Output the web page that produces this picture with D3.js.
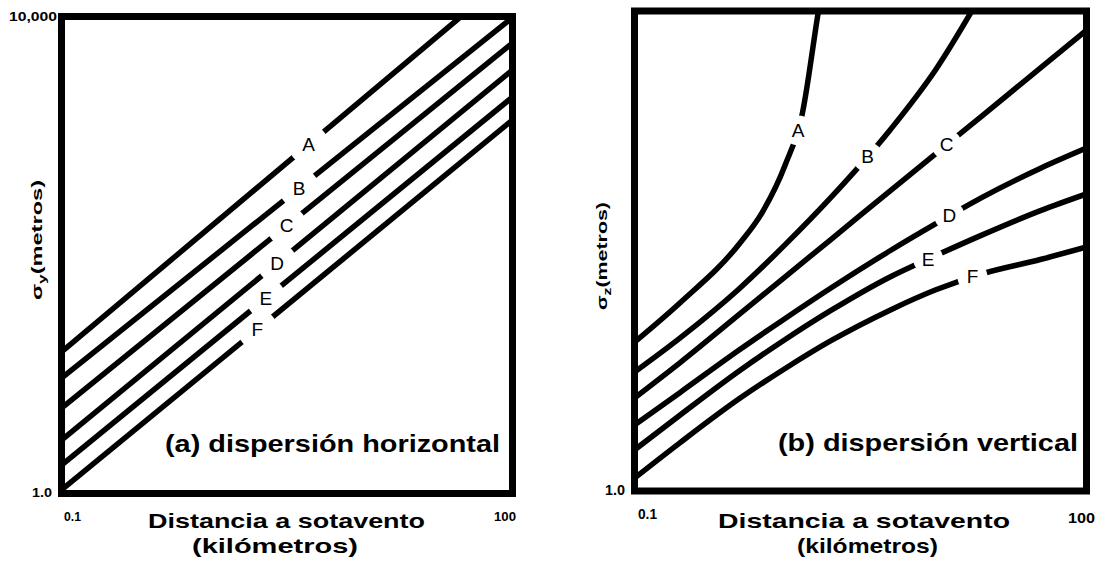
<!DOCTYPE html>
<html>
<head>
<meta charset="utf-8">
<script src="https://cdn.jsdelivr.net/npm/d3@7"></script>
<style>
  body { margin: 0; background: #fff; }
  svg { display: block; }
  text { font-family: "Liberation Sans", Arial, sans-serif; fill: #000; }
</style>
</head>
<body>
<script>
// Pasquill-Gifford stability classes
const classes = ['A', 'B', 'C', 'D', 'E', 'F'];

// (a) horizontal dispersion: straight lines, sigma_y at 0.1 km and 100 km
const distY = [0.1, 100];
const sigmaYStart = [15.4, 9.3, 5.2, 2.8, 1.73, 1.07];
const sigmaYEnd = [23000, 9800, 6000, 3560, 2110, 1355];
const labelDistY = [4.4, 3.8, 3.14, 2.72, 2.29, 2.01];

// (b) vertical dispersion: sigma_z read at these distances (km)
const distZ = [0.1, 0.2, 0.5, 1, 2, 5, 10, 20, 50, 100];
const distZA = [0.1, 0.2, 0.5, 0.7, 1, 1.3, 1.65, 2];
const sigmaZA = [17.4, 36.9, 116, 207, 521, 1400, 9400, 40000];
const sigmaZB = [9.8, 18.8, 49, 113, 277, 1030, 3260, 13600, null, null];
const sigmaZC = [5.96, 11.7, 29.9, 61, 124, 319, 649, 1320, 3390, 6920];
const sigmaZD = [3.55, 6.6, 15.1, 27.4, 48.9, 101, 169, 277, 492, 721];
const sigmaZE = [2.2, 4.28, 10.1, 18.3, 31.8, 61.1, 91.6, 135, 218, 299];
const sigmaZF = [1.28, 2.52, 5.92, 10.5, 17.8, 32.3, 47.5, 64.3, 85.3, 108];
const labelDistZ = [1.22, 3.52, 11.8, 12.3, 8.9, 17.5];

// axis tick labels
const xDomain = [0.1, 100];
const yDomain = [1, 10000];

const W = 1099, H = 567;

const svg = d3.select('body').append('svg')
  .attr('width', W)
  .attr('height', H);
const defs = svg.append('defs');

// stretched text helper (the picture is wider than the font)
function txt(g, x, y, str, size, len, bold) {
  return g.append('text')
    .attr('x', x)
    .attr('y', y)
    .attr('font-size', size)
    .attr('font-weight', bold ? 'bold' : 'normal')
    .attr('textLength', len)
    .attr('lengthAdjust', 'spacingAndGlyphs')
    .text(str);
}

// point on a path (monotone in x) at pixel x
function pointAtX(node, px) {
  let lo = 0, hi = node.getTotalLength();
  for (let k = 0; k < 40; k++) {
    const mid = (lo + hi) / 2;
    if (node.getPointAtLength(mid).x < px) lo = mid; else hi = mid;
  }
  return node.getPointAtLength((lo + hi) / 2);
}

/**
 draw one panel
 cfg: ranges, series, labels
*/
function panel(cfg) {
  const x = d3.scaleLog().domain(xDomain).range(cfg.xr);
  const y = d3.scaleLog().domain(yDomain).range(cfg.yr);
  const g = svg.append('g');

  defs.append('clipPath').attr('id', cfg.id + '-clip')
    .append('rect')
    .attr('x', cfg.xr[0]).attr('y', cfg.yr[1])
    .attr('width', cfg.xr[1] - cfg.xr[0])
    .attr('height', cfg.yr[0] - cfg.yr[1]);

  const line = d3.line()
    .defined(d => d[1] != null)
    .x(d => x(d[0]))
    .y(d => y(d[1]))
    .curve(d3.curveMonotoneX);

  const lines = g.append('g').attr('clip-path', 'url(#' + cfg.id + '-clip)');

  cfg.series.forEach((pts, i) => {
    const mid = cfg.id + '-m' + i;
    const path = lines.append('path')
      .datum(pts)
      .attr('d', line)
      .attr('fill', 'none')
      .attr('stroke', '#000')
      .attr('stroke-width', 5.5)
      .attr('mask', 'url(#' + mid + ')');

    const p = pointAtX(path.node(), x(cfg.labelAt[i]));
    const m = defs.append('mask').attr('id', mid)
      .attr('maskUnits', 'userSpaceOnUse')
      .attr('x', 0).attr('y', 0).attr('width', W).attr('height', H);
    m.append('rect').attr('width', W).attr('height', H).attr('fill', '#fff');
    m.append('circle').attr('cx', p.x).attr('cy', p.y).attr('r', cfg.gap).attr('fill', '#000');

    g.append('text')
      .attr('x', p.x)
      .attr('y', p.y)
      .attr('text-anchor', 'middle')
      .attr('dominant-baseline', 'central')
      .attr('font-size', 19)
      .text(classes[i]);
  });

  // frame
  g.append('rect')
    .attr('x', cfg.xr[0]).attr('y', cfg.yr[1])
    .attr('width', cfg.xr[1] - cfg.xr[0])
    .attr('height', cfg.yr[0] - cfg.yr[1])
    .attr('fill', 'none')
    .attr('stroke', '#000')
    .attr('stroke-width', 7);

  return { g: g, x: x, y: y };
}

// ---- (a) dispersión horizontal
const seriesY = classes.map((c, i) => [[distY[0], sigmaYStart[i]], [distY[1], sigmaYEnd[i]]]);
const pa = panel({
  id: 'a', xr: [61.5, 512.5], yr: [493.5, 16.5],
  series: seriesY, labelAt: labelDistY, gap: 20
});
const ga = pa.g;
txt(ga, 9, 21, '10,000', 12, 48, true);
txt(ga, 32, 497, '1.0', 12, 20, true);
txt(ga, 64, 521, '0.1', 12, 17, true);
txt(ga, 494, 521, '100', 12, 22, true);
txt(ga, 148, 528, 'Distancia a sotavento', 21, 277, true);
txt(ga, 192, 553, '(kilómetros)', 21, 166, true);
txt(ga, 165, 452, '(a) dispersión horizontal', 24, 335, true);

const ya = ga.append('text')
  .attr('transform', 'translate(42,300) rotate(-90)')
  .attr('font-size', 15)
  .attr('font-weight', 'bold')
  .attr('textLength', 120)
  .attr('lengthAdjust', 'spacingAndGlyphs');
ya.append('tspan').text('σ');
ya.append('tspan').attr('dy', 4).attr('font-size', 11).text('y');
ya.append('tspan').attr('dy', -4).text('(metros)');

// ---- (b) dispersión vertical
const seriesZ = [
  distZA.map((d, j) => [d, sigmaZA[j]]),
  distZ.map((d, j) => [d, sigmaZB[j]]),
  distZ.map((d, j) => [d, sigmaZC[j]]),
  distZ.map((d, j) => [d, sigmaZD[j]]),
  distZ.map((d, j) => [d, sigmaZE[j]]),
  distZ.map((d, j) => [d, sigmaZF[j]])
];
const pb = panel({
  id: 'b', xr: [634.5, 1086.5], yr: [491, 11],
  series: seriesZ, labelAt: labelDistZ, gap: 15
});
const gb = pb.g;
txt(gb, 605, 495, '1.0', 15, 20, true);
txt(gb, 638, 519, '0.1', 15, 19, true);
txt(gb, 1068, 523, '100', 15, 27, true);
txt(gb, 718, 528, 'Distancia a sotavento', 21, 292, true);
txt(gb, 797, 553, '(kilómetros)', 21, 141, true);
txt(gb, 778, 451, '(b) dispersión vertical', 24, 300, true);

const yb = gb.append('text')
  .attr('transform', 'translate(607,310) rotate(-90)')
  .attr('font-size', 15)
  .attr('font-weight', 'bold')
  .attr('textLength', 108)
  .attr('lengthAdjust', 'spacingAndGlyphs');
yb.append('tspan').text('σ');
yb.append('tspan').attr('dy', 4).attr('font-size', 11).text('z');
yb.append('tspan').attr('dy', -4).text('(metros)');
</script>
</body>
</html>
